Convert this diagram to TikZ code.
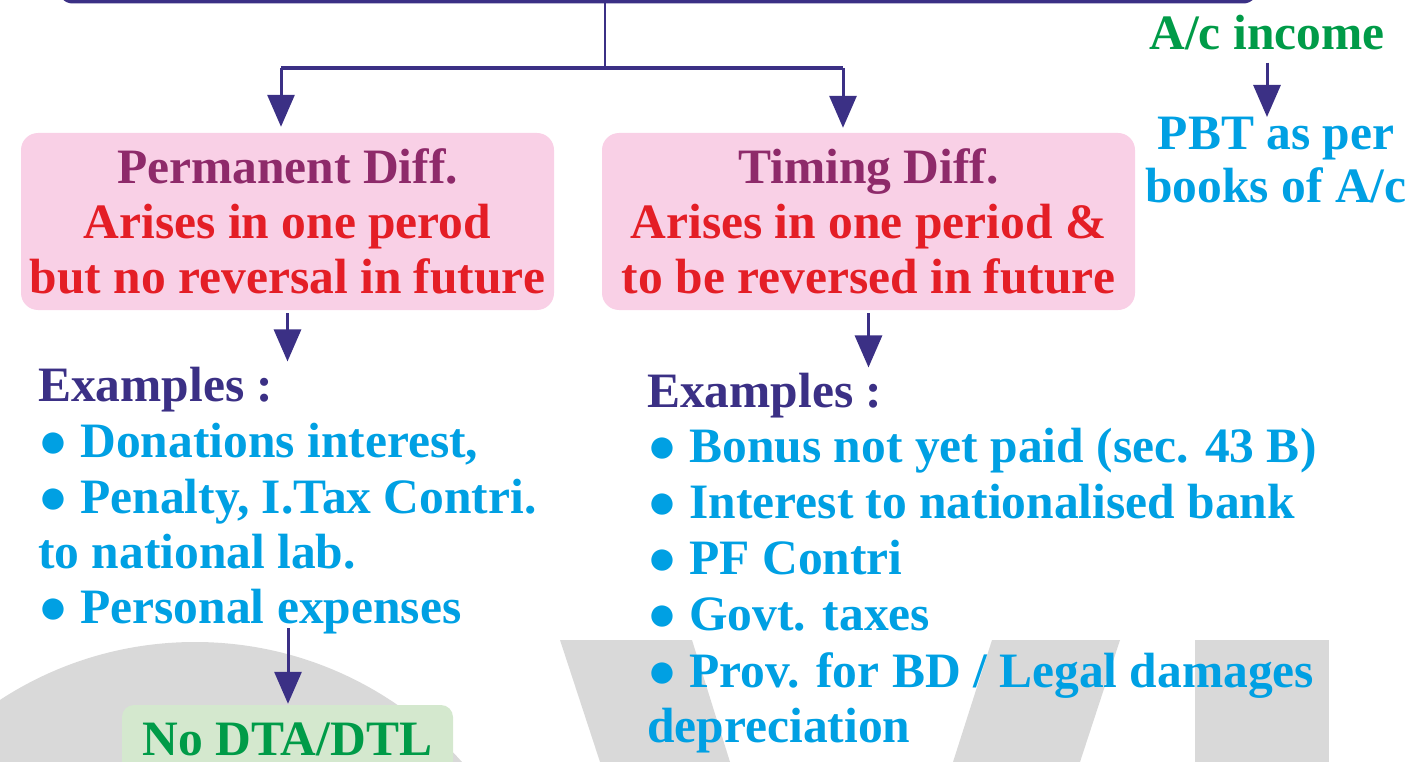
\documentclass[tikz,border=0pt]{standalone}
\usepackage{fontspec}
\setmainfont{Liberation Serif}
\usepackage{tikz}
\usetikzlibrary{arrows.meta}

\definecolor{navy}{RGB}{59,48,133}
\definecolor{pinkfill}{RGB}{249,208,230}
\definecolor{titlepurple}{RGB}{142,42,106}
\definecolor{diffred}{RGB}{228,30,38}
\definecolor{listcyan}{RGB}{0,160,227}
\definecolor{incgreen}{RGB}{0,155,72}
\definecolor{greenfill}{RGB}{212,232,206}
\definecolor{wmgray}{RGB}{217,217,217}

\begin{document}
\begin{tikzpicture}
  [x=1pt,y=-1pt,
   every node/.style={font=\fontsize{49.5}{55}\selectfont\bfseries,inner sep=0pt},
   diffbox/.style={fill=pinkfill,rounded corners=17pt,minimum width=533pt,minimum height=177pt,align=center,text=diffred},
   flow/.style={draw=navy,line width=3pt,-{Triangle[width=27pt,length=32pt]}},
   exhead/.style={anchor=base west,text=navy},
   item/.style={anchor=base west,text=listcyan}]
  \useasboundingbox (0,0) rectangle (1419,762);
  \clip (0,0) rectangle (1419,762);

  % watermark behind everything
  \fill[wmgray] (195,999) circle[radius=357pt];
  \fill[wmgray] (560,640) -- (692,640) -- (730,762) -- (600,762) -- cycle;
  \fill[wmgray] (992,640) -- (1120,640) -- (1080,762) -- (953,762) -- cycle;
  \fill[wmgray] (1195,640) rectangle (1329,762);

  \node[draw=navy,line width=4pt,rounded corners=14pt,minimum width=1198pt,minimum height=124pt] (top) at (658,-60.5) {};

  \node[diffbox] (perm) at (287.5,221.5) {{\color{titlepurple}Permanent Diff.}\\Arises in one perod\\but no reversal in future};
  \node[diffbox] (timing) at (868.5,221.5) {{\color{titlepurple}Timing Diff.}\\Arises in one period \&\\to be reversed in future};

  \node[anchor=base,text=incgreen] (acinc) at (1267,50) {A/c income};
  \node[anchor=north,align=center,text=listcyan,font=\fontsize{49.5}{52.5}\selectfont\bfseries] (pbt) at (1276,117) {PBT as per\\books of A/c};

  \node[exhead] (exl) at (38,401) {Examples :};
  \node[item] (l1) at (38,457) {● Donations interest,};
  \node[item] (l2) at (38,513) {● Penalty, I.Tax Contri.};
  \node[item] (l3) at (38,568) {to national lab.};
  \node[item] (l4) at (38,623) {● Personal expenses};

  \node[exhead] (exr) at (647,407) {Examples :};
  \node[item] (r1) at (647,462) {● Bonus not yet paid (sec. 43 B)};
  \node[item] (r2) at (647,518) {● Interest to nationalised bank};
  \node[item] (r3) at (647,574) {● PF Contri};
  \node[item] (r4) at (647,630) {● Govt. taxes};
  \node[item] (r5) at (647,687) {● Prov. for BD / Legal damages};
  \node[item] (r6) at (647,742) {depreciation};

  \node[fill=greenfill,rounded corners=12pt,minimum width=331pt,minimum height=68pt,text=incgreen] (nodta) at (287.5,739) {No DTA/DTL};

  \coordinate (split) at (605,68);
  \coordinate (bl) at (281,68);
  \coordinate (br) at (843,68);
  \coordinate (pe) at (288,628);

  \draw[navy,line width=2.5pt] (split |- top.south) -- (split);
  \draw[navy,line width=4.5pt] (bl) -- (br);
  \draw[flow,shorten >=6pt] (bl) -- (bl |- perm.north);
  \draw[flow,shorten >=5pt] (br) -- (br |- timing.north);
  \draw[flow,shorten <=3pt,shorten >=5pt] (perm.south) -- (perm.south |- exl.north);
  \draw[flow,shorten <=3pt,shorten >=5pt] (timing.south) -- (timing.south |- exr.north);
  \draw[flow,shorten >=1pt] (pe) -- (nodta.north -| pe);
  \draw[flow,shorten <=12pt] (acinc.south) -- (acinc.south |- pbt.north);
\end{tikzpicture}
\end{document}
